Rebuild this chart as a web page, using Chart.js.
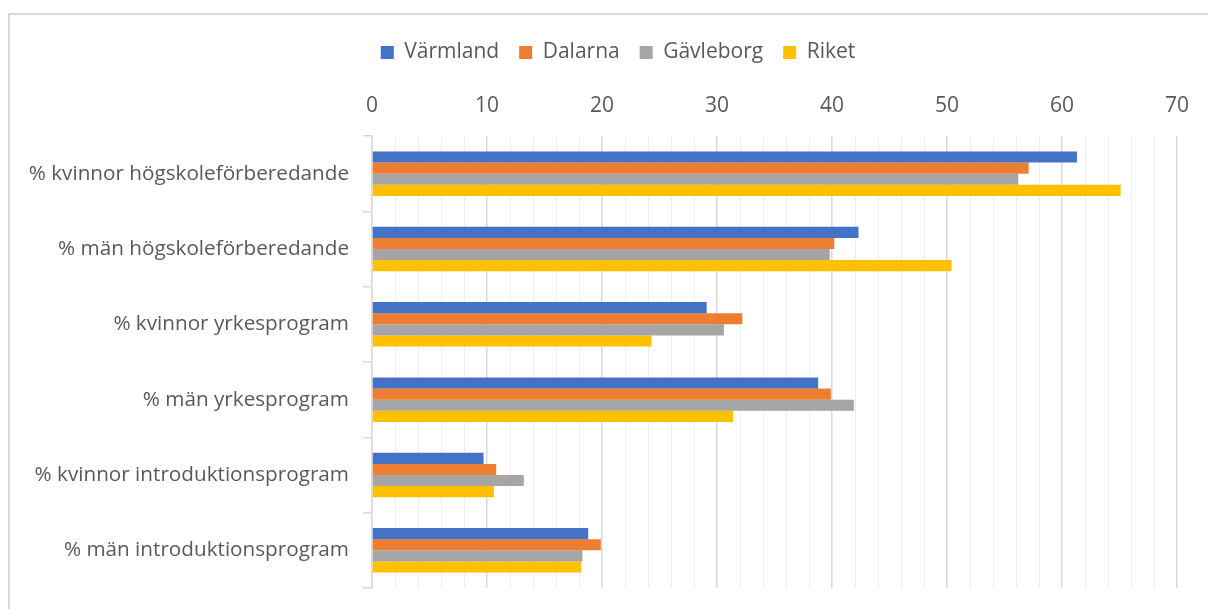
<!DOCTYPE html>
<html>
<head>
<meta charset="utf-8">
<script src="https://cdn.jsdelivr.net/npm/chart.js@4.4.1/dist/chart.umd.min.js"></script>
<style>
    html, body { margin: 0; padding: 0; background: #fff; overflow: hidden; }
    canvas { display: block; }
</style>
</head>
<body>
<canvas id="chart" width="1208" height="609"></canvas>
<script>
// Chart data
const categories = [
    '% kvinnor högskoleförberedande',
    '% män högskoleförberedande',
    '% kvinnor yrkesprogram',
    '% män yrkesprogram',
    '% kvinnor introduktionsprogram',
    '% män introduktionsprogram'
];
const seriesNames = ['Värmland', 'Dalarna', 'Gävleborg', 'Riket'];
const varmland = [61.3, 42.3, 29.1, 38.8, 9.7, 18.8];
const dalarna = [57.1, 40.2, 32.2, 39.9, 10.8, 19.9];
const gavleborg = [56.2, 39.8, 30.6, 41.9, 13.2, 18.3];
const riket = [65.1, 50.4, 24.3, 31.4, 10.6, 18.2];
const xMin = 0;
const xMax = 70;
const xMajorStep = 10;
const xMinorStep = 2;

const seriesColors = ['#4472C4', '#ED7D31', '#A5A5A5', '#FFC000'];
const textColor = '#595959';
const fontFamily = '"Open Sans", "Noto Sans", sans-serif';

// White background, light frame, and nudge the legend a bit to the right
const framePlugin = {
    id: 'frame',
    afterLayout(chart) {
        chart.legend.left += 25;
        chart.legend.right += 25;
    },
    beforeDraw(chart) {
        const c = chart.ctx;
        c.save();
        c.fillStyle = '#fff';
        c.fillRect(0, 0, chart.width, chart.height);
        c.strokeStyle = '#d9d9d9';
        c.lineWidth = 2;
        c.strokeRect(9, 14, 1400, 800);
        c.restore();
    }
};

const datasets = [varmland, dalarna, gavleborg, riket].map((vals, i) => ({
    label: seriesNames[i],
    data: vals,
    backgroundColor: seriesColors[i],
    borderWidth: 0,
    categoryPercentage: 0.59,
    barPercentage: 1.0
}));

new Chart(document.getElementById('chart'), {
    type: 'bar',
    data: { labels: categories, datasets: datasets },
    plugins: [framePlugin],
    options: {
        indexAxis: 'y',
        responsive: false,
        animation: false,
        layout: { padding: { left: 9, right: 31, top: 22, bottom: 21 } },
        plugins: {
            tooltip: { enabled: false },
            legend: {
                position: 'top',
                labels: {
                    boxWidth: 13,
                    boxHeight: 13,
                    padding: 20,
                    color: textColor,
                    font: { family: fontFamily, size: 21 }
                }
            }
        },
        scales: {
            x: {
                position: 'top',
                min: xMin,
                max: xMax,
                border: { display: false },
                grid: {
                    drawTicks: false,
                    color: ctx => (ctx.tick && ctx.tick.value % xMajorStep === 0) ? '#d9d9d9' : '#eeeeee',
                    lineWidth: ctx => (ctx.tick && ctx.tick.value % xMajorStep === 0) ? 1.5 : 1
                },
                ticks: {
                    stepSize: xMinorStep,
                    autoSkip: false,
                    maxRotation: 0,
                    padding: 17,
                    color: textColor,
                    font: { family: fontFamily, size: 21 },
                    callback: v => (v % xMajorStep === 0) ? String(v) : ''
                },
                afterFit: s => { s.height = 63; }
            },
            y: {
                border: { display: true, color: '#d9d9d9', width: 1.5 },
                grid: {
                    drawOnChartArea: false,
                    drawTicks: true,
                    tickLength: 9,
                    color: '#d9d9d9',
                    lineWidth: 1.5
                },
                ticks: {
                    padding: 14,
                    color: textColor,
                    font: { family: fontFamily, size: 20.7 }
                },
                afterFit: s => {
                    s.width = 363;
                    // labels sit mid-band, no extra room needed at the ends
                    s.paddingTop = 0;
                    s.paddingBottom = 0;
                }
            }
        }
    }
});
</script>
</body>
</html>
